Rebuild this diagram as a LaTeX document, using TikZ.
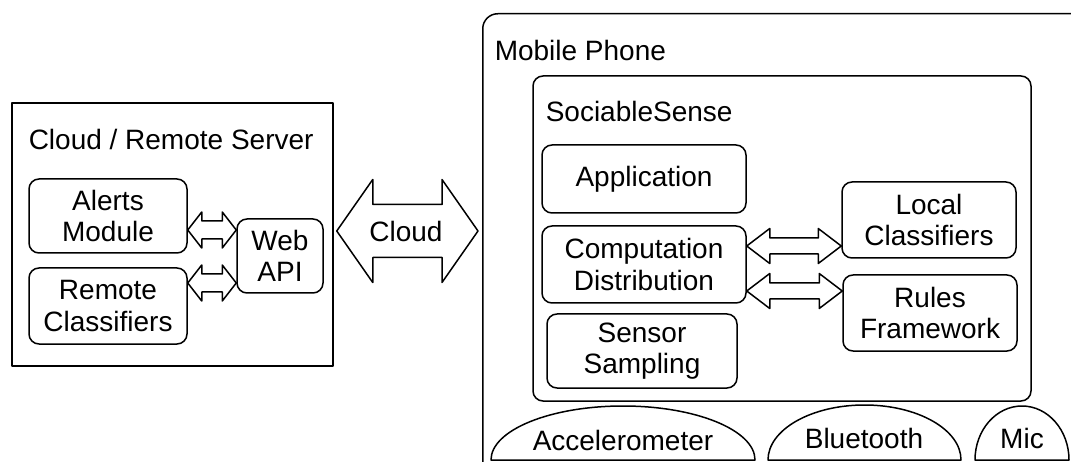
\documentclass[tikz,border=0pt]{standalone}
\usepackage{fontspec}
\setmainfont{Liberation Sans}
\usetikzlibrary{calc}

% hollow double-headed block arrow between two tip points
% #1,#2 tips, #3 shaft half-width, #4 head half-width, #5 head length
\newcommand\dblarrow[5]{%
  \path (#1) coordinate (dbL) (#2) coordinate (dbR);
  \draw[blockarrow] (dbL) -- ($(dbL)+(#5,-#4)$) -- ($(dbL)+(#5,-#3)$)
    -- ($(dbR)+(-#5,-#3)$) -- ($(dbR)+(-#5,-#4)$) -- (dbR)
    -- ($(dbR)+(-#5,#4)$) -- ($(dbR)+(-#5,#3)$)
    -- ($(dbL)+(#5,#3)$) -- ($(dbL)+(#5,#4)$) -- cycle;}

\begin{document}
\begin{tikzpicture}[x=1pt,y=-1pt,line width=1.5pt,line join=round,
  every node/.style={font=\fontsize{28}{31.5}\selectfont},
  box/.style={draw,rounded corners=10pt,align=center,inner sep=0pt},
  frame/.style={draw,inner sep=0pt},
  title/.style={anchor=base west,inner sep=0pt},
  blockarrow/.style={draw,fill=white,line width=1.5pt},
  sensor/.style={draw,line width=1.5pt}]
\useasboundingbox (0,0) rectangle (1071,462);
\clip (0,0) rectangle (1071,462);

% server side
\node[frame,minimum width=321pt,minimum height=263pt] (srv) at (172.5,234.5) {};
\node[title] (srvt) at (28,150) {Cloud / Remote Server};
\node[box,minimum width=158pt,minimum height=74pt] (am) at (108,216) {Alerts\\Module};
\node[box,minimum width=158pt,minimum height=76pt] (rc) at (108,306) {Remote\\Classifiers};
\node[box,minimum width=86pt,minimum height=74pt] (web) at (280,256) {Web\\API};
\coordinate (amy) at (0,230);
\coordinate (rcy) at (0,283);
\dblarrow{am.east |- amy}{web.west |- amy}{9}{18}{14}
\dblarrow{rc.east |- rcy}{web.west |- rcy}{9}{18}{14}

% phone side
\node[draw,rounded corners=15pt,anchor=north west,inner sep=0pt,
      minimum width=620pt,minimum height=500pt] (phone) at (482,13) {};
\node[title] (phonet) at (494,61) {Mobile Phone};
\node[box,minimum width=498pt,minimum height=325pt] (ss) at (782,238.5) {};
\node[title] (sst) at (545,122) {SociableSense};
\node[box,minimum width=204pt,minimum height=68pt] (app) at (644,179) {Application};
\node[box,minimum width=204pt,minimum height=77pt] (cd) at (644,264.5) {Computation\\Distribution};
\node[box,minimum width=190pt,minimum height=74pt] (smp) at (642,351) {Sensor\\Sampling};
\node[box,minimum width=174pt,minimum height=76pt] (lc) at (929,220) {Local\\Classifiers};
\node[box,minimum width=174pt,minimum height=76pt] (rf) at (930,313) {Rules\\Framework};
\coordinate (ay1) at (0,246);
\coordinate (ay2) at (0,291);
\dblarrow{cd.east |- ay1}{lc.west |- ay1}{8}{17.5}{23}
\dblarrow{cd.east |- ay2}{rf.west |- ay2}{8}{17.5}{23}

% link between server and phone
\coordinate (cloudc) at (406,231);
\dblarrow{$(srv.east |- cloudc)+(3,0)$}{$(phone.west |- cloudc)+(-4,0)$}{26.5}{51.5}{36}
\node[inner sep=0pt] (cloudl) at (cloudc) {Cloud};

% sensors along the bottom edge
\draw[sensor] (491,460) arc[start angle=180,end angle=0,x radius=132pt,y radius=54pt] -- cycle;
\node[anchor=base,inner sep=0pt] (acc) at (623,450) {Accelerometer};
\draw[sensor] (768,460) arc[start angle=180,end angle=0,x radius=96.5pt,y radius=55pt] -- cycle;
\node[anchor=base,inner sep=0pt] (bt) at (864,448) {Bluetooth};
\draw[sensor] (975,460) arc[start angle=180,end angle=0,x radius=47pt,y radius=54pt] -- cycle;
\node[anchor=base,inner sep=0pt] (mic) at (1022,448) {Mic};
\end{tikzpicture}
\end{document}
